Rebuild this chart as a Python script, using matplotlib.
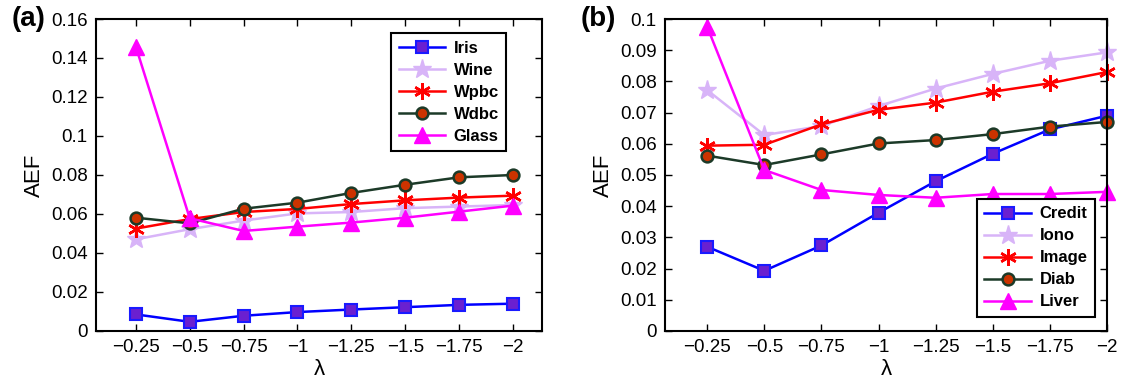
import matplotlib
matplotlib.use("Agg")
import matplotlib.pyplot as plt

plt.rcParams['font.family'] = ['Liberation Sans', 'DejaVu Sans']

lam_labels = ['\u22120.25', '\u22120.5', '\u22120.75', '\u22121', '\u22121.25', '\u22121.5', '\u22121.75', '\u22122']
x = list(range(1, 9))

# panel (a)
iris = [0.0085, 0.0047, 0.0078, 0.0097, 0.0110, 0.0122, 0.0134, 0.0140]
wine = [0.0470, 0.0522, 0.0566, 0.0603, 0.0610, 0.0630, 0.0638, 0.0646]
wpbc = [0.0525, 0.0574, 0.0610, 0.0626, 0.0651, 0.0670, 0.0684, 0.0694]
wdbc = [0.0581, 0.0552, 0.0627, 0.0658, 0.0708, 0.0750, 0.0788, 0.0800]
glass = [0.1458, 0.0578, 0.0513, 0.0535, 0.0556, 0.0581, 0.0612, 0.0643]

# panel (b)
credit = [0.0270, 0.0193, 0.0274, 0.0379, 0.0480, 0.0568, 0.0646, 0.0690]
iono = [0.0772, 0.0628, 0.0657, 0.0721, 0.0777, 0.0824, 0.0866, 0.0893]
image = [0.0594, 0.0597, 0.0662, 0.0709, 0.0732, 0.0767, 0.0794, 0.0830]
diab = [0.0562, 0.0532, 0.0566, 0.0601, 0.0612, 0.0631, 0.0655, 0.0670]
liver = [0.0975, 0.0516, 0.0452, 0.0436, 0.0427, 0.0439, 0.0439, 0.0446]

asterisk = (6, 2, 0)
styles = [
    dict(color='#0000ff', marker='s', ms=9, mfc='#6a20d0', mec='#1a1aff', mew=1.5, lw=1.8),
    dict(color='#d8b4f8', marker='*', ms=14, mfc='#d8b4f8', mec='#d8b4f8', lw=1.8),
    dict(color='#ff0000', marker=asterisk, ms=12, mfc='#ff0000', mec='#ff0000', mew=1.8, lw=1.8),
    dict(color='#1c3a28', marker='o', ms=8.5, mfc='#cc3300', mec='#1c3a28', mew=1.8, lw=1.8),
    dict(color='#ff00ff', marker='^', ms=12, mfc='#ff00ff', mec='#ff00ff', lw=1.8),
]

fig = plt.figure(figsize=(11.28, 3.8), dpi=100)
ax1 = fig.add_axes([0.0851, 0.129, 0.3954, 0.821])
ax2 = fig.add_axes([0.5895, 0.129, 0.3918, 0.821])

def draw(ax, series, names, ylim, yticks, ylabels, xlim, loc, anchor, tag):
    for s, n, st in zip(series, names, styles):
        ax.plot(x, s, label=n, clip_on=False, **st)
    ax.set_xlim(*xlim)
    ax.set_ylim(*ylim)
    ax.set_xticks(x)
    ax.set_xticklabels(lam_labels)
    ax.set_yticks(yticks)
    ax.set_yticklabels(ylabels)
    ax.tick_params(direction='in', top=True, right=True, labelsize=13.5, length=5, width=1, pad=6)
    for sp in ax.spines.values():
        sp.set_linewidth(1.5)
    ax.set_xlabel('\u03bb', fontsize=16, labelpad=2)
    ax.set_ylabel('AEF', fontsize=16, labelpad=4)
    leg = ax.legend(loc=loc, bbox_to_anchor=anchor, fancybox=False, framealpha=1,
                    edgecolor='black', prop=dict(weight='bold', size=12),
                    handlelength=2.8, handletextpad=0.5, labelspacing=0.42, borderpad=0.45,
                    borderaxespad=0)
    leg.get_frame().set_linewidth(1.5)
    leg.set_zorder(5)
    ax.text(-0.19, 1.0, tag, transform=ax.transAxes, fontsize=20, fontweight='bold',
            ha='left', va='center')

draw(ax1, [iris, wine, wpbc, wdbc, glass], ['Iris', 'Wine', 'Wpbc', 'Wdbc', 'Glass'],
     (0, 0.16), [0, 0.02, 0.04, 0.06, 0.08, 0.1, 0.12, 0.14, 0.16],
     ['0', '0.02', '0.04', '0.06', '0.08', '0.1', '0.12', '0.14', '0.16'],
     (0.26, 8.54), 'upper right', (0.92, 0.955), '(a)')
draw(ax2, [credit, iono, image, diab, liver], ['Credit', 'Iono', 'Image', 'Diab', 'Liver'],
     (0, 0.1), [i / 100 for i in range(11)],
     ['0', '0.01', '0.02', '0.03', '0.04', '0.05', '0.06', '0.07', '0.08', '0.09', '0.1'],
     (0.26, 8.0), 'lower right', (0.973, 0.045), '(b)')

fig.savefig('out.png', dpi=100)
